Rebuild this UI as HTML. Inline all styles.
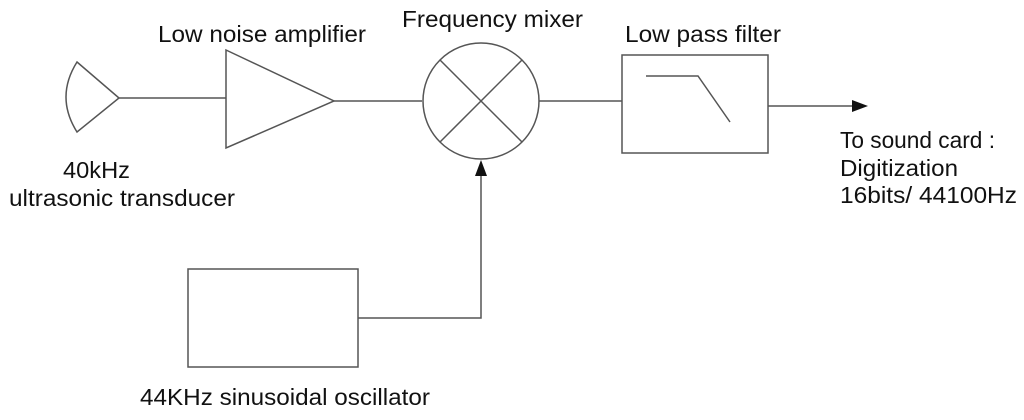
<!DOCTYPE html>
<html><head><style>body{margin:0;background:#fff}</style></head><body>
<svg width="1024" height="415" viewBox="0 0 1024 415" xmlns="http://www.w3.org/2000/svg" font-family="Liberation Sans, sans-serif" font-size="23.5" fill="#111">
<g stroke="#555" stroke-width="1.5" fill="none">
<path d="M77,62 L119,98 L77,132 Q55,97 77,62 Z"/>
<line x1="119" y1="98" x2="226" y2="98"/>
<polygon points="226,50 226,148 334,101"/>
<line x1="334" y1="101" x2="422" y2="101"/>
<circle cx="481" cy="101" r="58"/>
<line x1="440" y1="60" x2="522" y2="142"/>
<line x1="522" y1="60" x2="440" y2="142"/>
<line x1="539" y1="101" x2="622" y2="101"/>
<rect x="622" y="55" width="146" height="98"/>
<polyline points="646,76 698,76 730,122"/>
<line x1="768" y1="106" x2="852" y2="106"/>
<rect x="188" y="269" width="170" height="98"/>
<polyline points="358,318 481,318 481,176"/>
</g>
<polygon points="852,100 868,106 852,112" fill="#111"/>
<polygon points="475,176 481,160 487,176" fill="#111"/>
<text x="158" y="42" textLength="208" lengthAdjust="spacingAndGlyphs">Low noise amplifier</text>
<text x="402" y="27" textLength="181" lengthAdjust="spacingAndGlyphs">Frequency mixer</text>
<text x="625" y="42" textLength="156" lengthAdjust="spacingAndGlyphs">Low pass filter</text>
<text x="63" y="178" textLength="67" lengthAdjust="spacingAndGlyphs">40kHz</text>
<text x="9" y="206" textLength="226" lengthAdjust="spacingAndGlyphs">ultrasonic transducer</text>
<text x="840" y="148" textLength="155" lengthAdjust="spacingAndGlyphs">To sound card :</text>
<text x="840" y="176" textLength="118" lengthAdjust="spacingAndGlyphs">Digitization</text>
<text x="840" y="203" textLength="177" lengthAdjust="spacingAndGlyphs">16bits/ 44100Hz</text>
<text x="140" y="405" textLength="290" lengthAdjust="spacingAndGlyphs">44KHz sinusoidal oscillator</text>
</svg>
</body></html>
